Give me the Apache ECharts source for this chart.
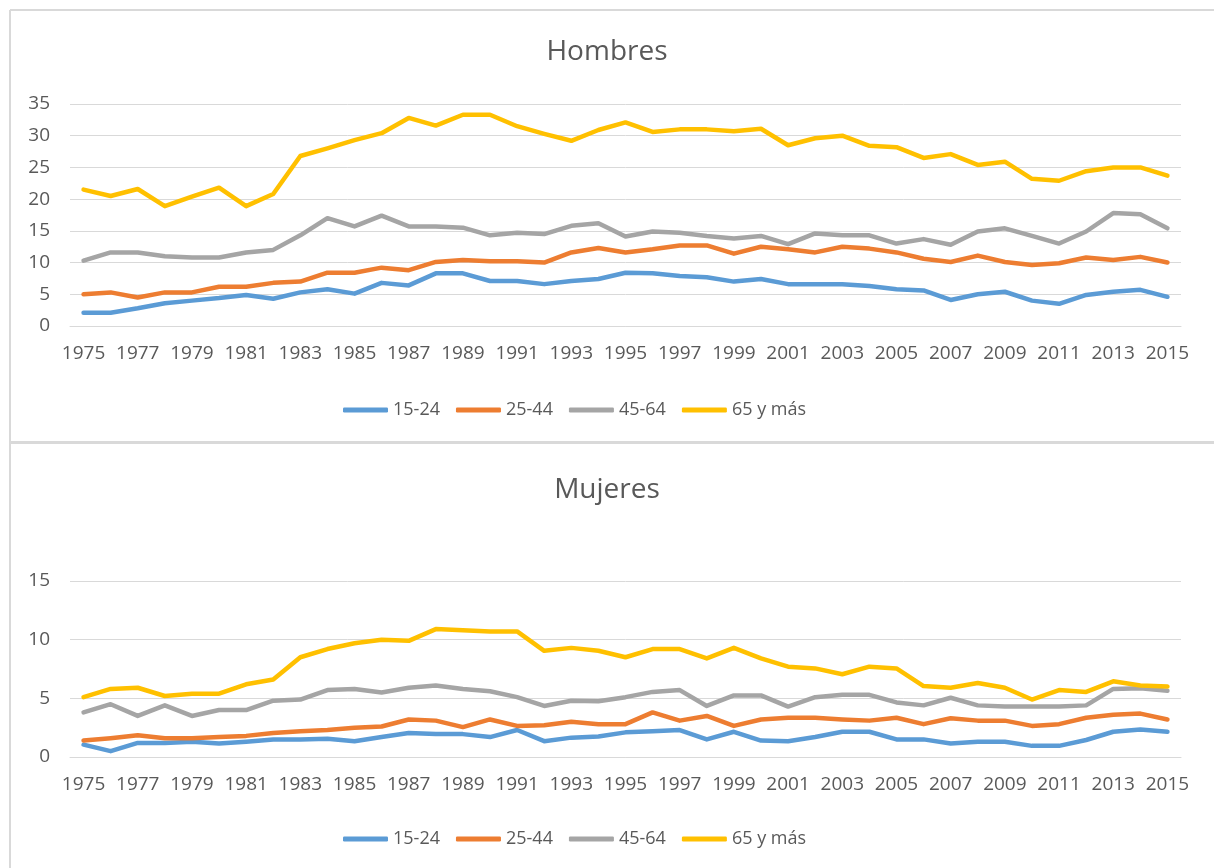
<!DOCTYPE html>
<html>
<head>
<meta charset="utf-8">
<script src="https://cdn.jsdelivr.net/npm/echarts@6/dist/echarts.min.js"></script>
<style>
html, body { margin: 0; padding: 0; background: #fff; }
#chart { width: 1214px; height: 868px; }
</style>
</head>
<body>
<div id="chart"></div>
<script>
var years = [];
for (var y = 1975; y <= 2015; y++) { years.push(String(y)); }

var names = ['15-24', '25-44', '45-64', '65 y más'];
var colors = ['#5B9BD5', '#ED7D31', '#A5A5A5', '#FFC000'];

// Hombres
var h1524 = [2.1, 2.1, 2.8, 3.6, 4.0, 4.4, 4.9, 4.3, 5.3, 5.8, 5.1, 6.8, 6.4, 8.3, 8.3, 7.1, 7.1, 6.6, 7.1, 7.4,
	8.4, 8.3, 7.9, 7.7, 7.0, 7.4, 6.6, 6.6, 6.6, 6.3, 5.8, 5.6, 4.1, 5.0, 5.4, 4.0, 3.5, 4.9, 5.4, 5.7, 4.6];
var h2544 = [5.0, 5.3, 4.5, 5.3, 5.3, 6.2, 6.2, 6.8, 7.0, 8.4, 8.4, 9.2, 8.8, 10.1, 10.4, 10.2, 10.2, 10.0, 11.6, 12.3,
	11.6, 12.1, 12.7, 12.7, 11.4, 12.5, 12.1, 11.6, 12.5, 12.2, 11.6, 10.6, 10.1, 11.1, 10.1, 9.6, 9.9, 10.8, 10.4, 10.9, 10.0];
var h4564 = [10.3, 11.6, 11.6, 11.0, 10.8, 10.8, 11.6, 12.0, 14.3, 17.0, 15.7, 17.4, 15.7, 15.7, 15.5, 14.3, 14.7, 14.5, 15.8, 16.2,
	14.1, 14.9, 14.7, 14.2, 13.8, 14.2, 12.9, 14.6, 14.3, 14.3, 13.0, 13.7, 12.8, 14.9, 15.4, 14.2, 13.0, 14.9, 17.8, 17.6, 15.4];
var h65 = [21.5, 20.5, 21.6, 18.9, 20.4, 21.8, 18.9, 20.8, 26.8, 28.0, 29.3, 30.4, 32.8, 31.6, 33.3, 33.3, 31.5, 30.3, 29.2, 30.9,
	32.1, 30.6, 31.0, 31.0, 30.7, 31.1, 28.5, 29.6, 30.0, 28.4, 28.2, 26.5, 27.1, 25.4, 25.9, 23.2, 22.9, 24.4, 25.0, 25.0, 23.7];

// Mujeres
var m1524 = [1.05, 0.5, 1.2, 1.2, 1.3, 1.15, 1.3, 1.5, 1.5, 1.55, 1.35, 1.7, 2.05, 1.95, 1.95, 1.7, 2.3, 1.35, 1.65, 1.75,
	2.1, 2.2, 2.3, 1.5, 2.15, 1.4, 1.35, 1.7, 2.15, 2.15, 1.5, 1.5, 1.15, 1.3, 1.3, 0.95, 0.95, 1.45, 2.15, 2.35, 2.15];
var m2544 = [1.4, 1.6, 1.85, 1.6, 1.6, 1.7, 1.8, 2.05, 2.2, 2.3, 2.5, 2.6, 3.2, 3.1, 2.55, 3.2, 2.65, 2.7, 3.0, 2.8,
	2.8, 3.8, 3.1, 3.5, 2.65, 3.2, 3.35, 3.35, 3.2, 3.1, 3.35, 2.8, 3.3, 3.1, 3.1, 2.65, 2.8, 3.35, 3.6, 3.7, 3.2];
var m4564 = [3.8, 4.5, 3.5, 4.4, 3.5, 4.0, 4.0, 4.8, 4.9, 5.7, 5.8, 5.5, 5.9, 6.1, 5.8, 5.6, 5.1, 4.35, 4.8, 4.75,
	5.1, 5.55, 5.7, 4.35, 5.25, 5.25, 4.3, 5.1, 5.3, 5.3, 4.65, 4.4, 5.05, 4.4, 4.3, 4.3, 4.3, 4.4, 5.8, 5.85, 5.65];
var m65 = [5.1, 5.8, 5.9, 5.2, 5.4, 5.4, 6.2, 6.6, 8.5, 9.2, 9.7, 10.0, 9.9, 10.9, 10.8, 10.7, 10.7, 9.05, 9.3, 9.05,
	8.5, 9.2, 9.2, 8.4, 9.3, 8.4, 7.7, 7.55, 7.05, 7.7, 7.55, 6.05, 5.9, 6.3, 5.9, 4.9, 5.7, 5.55, 6.45, 6.1, 6.0];

var hombres = [h1524, h2544, h4564, h65];
var mujeres = [m1524, m2544, m4564, m65];

var txt = '#595959';
var fontFam = '"Open Sans", sans-serif';

var chart = echarts.init(document.getElementById('chart'));

function xAxis(idx) {
	return {
		type: 'category', gridIndex: idx, data: years, boundaryGap: true,
		axisTick: { show: false },
		axisLine: { lineStyle: { color: '#d9d9d9', width: 1 } },
		axisLabel: { interval: 1, color: txt, fontSize: 19, fontFamily: fontFam, margin: 18 }
	};
}
function yAxis(idx, max) {
	return {
		type: 'value', gridIndex: idx, min: 0, max: max, interval: 5,
		axisLine: { show: false }, axisTick: { show: false },
		splitLine: { lineStyle: { color: '#d9d9d9', width: 1 } },
		axisLabel: { color: txt, fontSize: 19, fontFamily: fontFam, margin: 20 }
	};
}

var series = [];
[hombres, mujeres].forEach(function(group, g) {
	group.forEach(function(vals, i) {
		series.push({
			name: names[i], type: 'line', xAxisIndex: g, yAxisIndex: g,
			data: vals, showSymbol: false, symbol: 'none',
			lineStyle: { width: 4.5, color: colors[i], cap: 'round', join: 'round' },
			itemStyle: { color: colors[i] },
			animation: false
		});
	});
});

function legend(top) {
	return {
		data: names, left: 338, top: top, itemWidth: 45, itemHeight: 5, itemGap: 16,
		icon: 'roundRect',
		textStyle: { color: txt, fontSize: 18, fontFamily: fontFam }
	};
}

chart.setOption({
	animation: false,
	color: colors,
	title: [
		{ text: 'Hombres', left: 'center', top: 33, textStyle: { color: txt, fontSize: 28, fontWeight: 'normal', fontFamily: fontFam } },
		{ text: 'Mujeres', left: 'center', top: 471, textStyle: { color: txt, fontSize: 28, fontWeight: 'normal', fontFamily: fontFam } }
	],
	legend: [legend(396), legend(825)],
	grid: [
		{ left: 70, right: 33, top: 104, height: 222 },
		{ left: 70, right: 33, top: 581, height: 176 }
	],
	xAxis: [xAxis(0), xAxis(1)],
	yAxis: [yAxis(0, 35), yAxis(1, 15)],
	graphic: [
		{ type: 'line', shape: { x1: 10, y1: 10, x2: 1214, y2: 10 }, style: { stroke: '#d9d9d9', lineWidth: 2 } },
		{ type: 'line', shape: { x1: 10, y1: 10, x2: 10, y2: 868 }, style: { stroke: '#d9d9d9', lineWidth: 2 } },
		{ type: 'line', shape: { x1: 10, y1: 442.5, x2: 1214, y2: 442.5 }, style: { stroke: '#d9d9d9', lineWidth: 3 } }
	],
	series: series
});
</script>
</body>
</html>
